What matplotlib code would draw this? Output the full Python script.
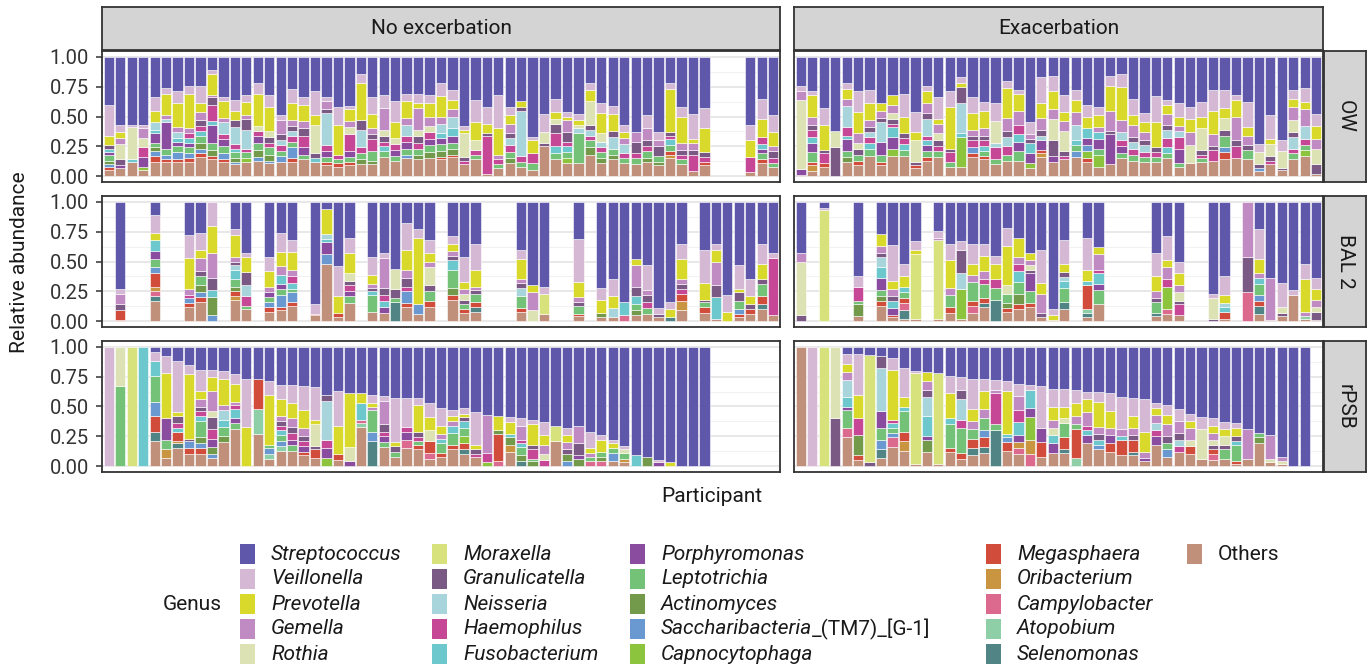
import numpy as np
import matplotlib
matplotlib.use("Agg")
import matplotlib.pyplot as plt
from matplotlib.patches import Rectangle

plt.rcParams['font.family'] = ['Roboto', 'DejaVu Sans']

# genus names in legend order (first one sits on top of each stack)
genera = ["Streptococcus", "Veillonella", "Prevotella", "Gemella", "Rothia",
          "Moraxella", "Granulicatella", "Neisseria", "Haemophilus", "Fusobacterium",
          "Porphyromonas", "Leptotrichia", "Actinomyces", "Saccharibacteria_(TM7)_[G-1]",
          "Capnocytophaga", "Megasphaera", "Oribacterium", "Campylobacter", "Atopobium",
          "Selenomonas", "Others"]
codes = "SVPGRMKNHFYLABCEIQTXO"
genus_colors = ["#5E57AA", "#D5B9D4", "#D9D92B", "#C08BC3", "#DDE2B5",
                "#D7E27C", "#7A5A84", "#A7D5DB", "#C74797", "#6CC8CC",
                "#8A4C9E", "#74C277", "#739A4A", "#6A98D1", "#8CC43D",
                "#D24C3C", "#C99541", "#DC6A8E", "#8ECFA8", "#518585",
                "#C1907A"]

sample_types = ["OW", "BAL 2", "rPSB"]
groups = ["No excerbation", "Exacerbation"]

# each entry = one participant, "code+percent", "" = no sample
ow_no = [
    "S40 V26 P8 K3 F3 Y2 L5 A3 B2 E3 O5", "S57 V6 P5 G5 R13 K5 Y2 O7", "S57 V2 R27 F2 O12",
    "S57 V3 G8 R8 H8 Y8 C3 O5", "S34 V11 P10 N6 F3 Y8 B4 E5 L4 A3 O12",
    "S26 V5 P18 G3 N3 Y22 B4 L5 E2 O12", "S29 V10 P20 G4 N5 F3 Y4 B6 L5 E2 O12",
    "S24 V7 P29 G4 F4 H4 Y4 L5 B4 E3 O12", "S24 V15 P7 G7 K5 F4 H4 L6 A5 B4 E3 O16",
    "S11 V3 P18 G2 K6 H14 F3 Y15 L6 A5 E3 O14", "S34 V3 P14 G4 N10 H4 Y6 L6 B5 E2 O12",
    "S36 V9 P8 K6 N14 F3 H4 L5 A3 B2 O10", "S32 V6 P11 G3 K9 N16 H3 L5 C3 O12",
    "S22 V9 P27 R4 Y6 H4 L6 A6 B3 O13", "S32 V10 P20 R5 K5 H4 L6 A5 B2 O11",
    "S49 V4 G12 N4 K5 H5 B5 L4 O12", "S27 V12 P14 G5 N4 B9 K4 H5 L5 E3 O12",
    "S34 V6 P14 G6 K6 H10 Y6 L4 O14", "S29 V20 P8 R24 K4 F3 O12",
    "S34 V3 G7 K3 N27 H5 Y5 L4 E3 O9", "S42 V15 P25 H4 L3 E3 O8",
    "S41 V3 P10 R6 G5 H14 Y5 L4 E3 O9", "S14 V8 P31 K8 N15 H5 L5 A4 O10",
    "S34 V14 P12 G5 K4 H10 L8 A3 O10", "S32 V11 G18 K5 R5 F4 H4 L5 O16",
    "S37 V18 P13 R5 H5 Y5 L4 O13", "S31 V6 P14 G6 N9 H5 Y6 L5 B3 O15",
    "S31 V8 P4 G18 K6 R5 H5 L5 A4 O14", "S32 V7 P11 G8 R5 H6 Y5 L6 A5 O15",
    "S22 V11 P17 G6 N8 F4 Y5 L6 A5 E2 O14", "S28 V8 P8 G6 N10 F6 Y6 L5 A5 E2 O16",
    "S58 V3 P3 R20 K3 H3 O10", "S36 V19 P15 R8 H4 L4 O14", "S42 V14 P8 K2 H32 O2",
    "S32 V28 P22 H4 G4 L3 O7", "S42 V7 P7 G8 K4 N6 H6 L5 A4 O11",
    "S37 P5 K3 N38 H5 L4 O8", "S67 V3 P11 H8 L6 O5", "S48 V15 R9 K3 O25",
    "S35 V11 P6 R4 H11 F6 K8 L5 O14", "S46 V4 P3 G10 K8 F5 H4 L5 C4 O11",
    "S48 V5 P4 R3 N4 L25 O11", "S22 V6 R20 P9 K4 N5 H4 L6 A6 O18",
    "S39 V8 P17 R7 N5 H4 L5 A4 O11", "S41 V7 P14 K5 N10 L5 A4 O14",
    "S57 V6 P5 G5 N8 H4 L4 O11", "S63 G8 K10 H4 L5 O10", "S49 V11 G10 K5 H4 L6 A3 O12",
    "S63 V7 G5 K8 L5 A3 O9", "S22 V5 P36 K3 F5 H3 L5 I3 E3 O15",
    "S42 V8 P22 G6 K4 H4 L4 O10", "S48 V21 P3 G6 K4 H14 O4", "S43 V17 P20 K4 H4 E3 O9",
    "", "", "",
    "S57 V13 P14 H13 O3", "S35 V17 P15 H6 F4 Y4 L5 E3 O11", "S49 V14 P12 K6 G4 H4 L3 O8",
]

ow_ex = [
    "S24 V5 G7 R58 Y5 O1", "S29 V3 P18 G7 K4 H6 F5 Y8 L8 E3 I5 O4",
    "S43 V14 P21 K3 H8 E3 O8", "S62 R14 K24", "S22 V5 P8 G6 N18 H7 F3 Y10 L5 A4 O12",
    "S29 V17 P18 G8 R5 K5 L5 E4 O9", "S28 V11 P14 G6 K4 N4 F5 H5 L6 O17",
    "S39 P6 G6 K4 N16 Y11 L6 E3 O9", "S32 P8 G7 R5 K4 F8 Y10 C6 H3 O17",
    "S31 V19 P14 K4 F5 H5 L5 O17", "S46 V17 P7 R18 K3 E2 O7",
    "S24 V5 P10 G8 K5 N14 F4 H4 Y5 L5 E3 O13", "S34 V18 P4 G8 R6 K5 L5 H4 O16",
    "S29 V13 P35 K3 H8 L4 O8", "S17 V5 P3 K14 N25 F3 C25 O8",
    "S34 V13 P14 G5 K4 H6 B5 E3 O16", "S38 V7 P15 G6 K4 H5 F4 E3 L4 O14",
    "S39 V15 R18 N4 H10 L4 O10", "S20 V6 P25 G11 K5 N8 H7 L5 O13",
    "S28 V3 P14 G12 H8 F6 Y8 L8 O13", "S55 V10 G4 K3 F9 Y8 C4 O7",
    "S17 V22 P12 G10 N4 K5 Y8 I3 E3 O16", "S16 V13 P15 G8 R18 K13 Y5 O12",
    "S32 V14 P8 G8 R17 K4 H3 O14", "S28 V8 P10 G11 N13 F4 B5 L5 O16",
    "S40 V10 P10 F8 Y6 B5 C6 E3 O12", "S42 V7 P10 G4 F6 Y8 L5 C10 O8",
    "S16 V8 P21 G17 Y25 K3 O10", "S14 V11 P28 G10 N7 H5 Y6 L4 O15",
    "S35 V14 P8 G10 N6 H5 K4 L5 O13", "S47 V8 P8 G7 N6 K4 H4 L4 O12",
    "S33 V22 P21 K4 H4 L4 O12", "S36 V4 P8 G9 K4 H8 N7 F5 L4 O15",
    "S39 V11 P8 G4 Y12 N5 H10 L3 O8", "S42 V10 P11 G11 R15 O11",
    "S38 V12 P10 R18 K4 H3 L3 O12", "S28 V17 P20 G10 H9 K3 O13",
    "S28 V15 P8 R10 K5 B4 L10 E6 O14", "S32 V4 P14 G20 K5 H10 O15",
    "S38 V21 P7 G8 K4 L8 O14", "S73 V7 R10 K3 B3 O4", "S49 V20 P4 R10 K4 H3 O10",
    "S70 V9 R14 K2 O5", "S28 V7 P7 G11 K4 N10 H4 L5 R10 O14",
    "S26 V12 P6 G14 N11 H5 C5 L4 O17", "S48 V10 P11 G8 R13 K8 O2",
]

bal_no = [
    "", "S73 V4 G9 K5 E8 O1", "", "", "S11 V15 P6 F9 Y7 L7 B5 E11 I4 X4 Q4 O17", "", "",
    "S28 V19 P26 G5 B4 E3 H3 O12", "S26 V14 P7 G11 K4 L8 A6 B4 E4 O16",
    "V20 P23 G21 K10 F6 A15 B5", "", "S23 P18 V5 G4 K3 F8 N4 L6 A4 E4 I3 O18",
    "S43 P13 V3 K11 N9 H8 L3 O10", "", "S46 V12 P13 G5 Y4 L4 B4 E4 O8",
    "S26 V16 P12 G7 Y4 F8 B10 L5 E3 O9", "S32 V10 P15 G5 H6 F5 B8 E3 L3 O13", "",
    "S86 V8 E1 O5", "S6 P21 N4 F3 Y10 B8 O48", "S54 V25 P14 E4 O3",
    "S30 V13 P17 R6 K4 H5 Y4 L6 O15", "", "S46 V15 P8 G3 K3 F3 L14 O8",
    "S43 V4 G25 K6 F5 Y5 H5 O7", "S56 R17 K8 L3 X16", "S18 V22 P17 G7 K7 H4 B10 E3 O12",
    "S23 V7 P56 B8 O6", "S32 V11 P7 R15 K5 G5 L8 E5 O12", "",
    "S29 V6 P6 G4 F8 K4 L15 A6 E4 O18", "S46 V21 P6 G4 K4 R5 L4 E3 O7",
    "S35 V22 P14 G3 K3 L7 E4 X4 O8", "", "", "",
    "S40 V8 P17 G3 K4 N7 L10 E3 O8", "S70 P6 G15 R9", "S71 V6 M17 O6", "", "",
    "S31 V36 P13 G4 K3 L7 E2 O4", "", "S72 V10 P11 A4 O3", "S65 V14 P10 N8 O3",
    "S84 F11 Q5", "S48 P5 G18 K8 F7 L5 A4 O5", "S53 V21 G4 K6 H5 L5 O6",
    "S89 V5 K3 O3", "S84 V6 P7 X3", "S35 V13 P17 G4 K4 H4 E6 I8 O9", "",
    "S40 V28 P14 E5 L4 K2 O7", "S35 V5 P10 G20 K10 F18 O2", "S78 V14 P8",
    "S53 V20 P3 K7 L7 B4 E3 O3", "S65 V14 P7 K4 E4 O6",
    "S35 V17 P13 K4 L10 E7 X4 O10", "S43 V4 H48 O5",
]

bal_ex = [
    "S43 G7 R45 K5", "", "S5 V2 M93", "", "", "S62 V9 H12 L3 A10 O4", "",
    "S27 P10 G6 K3 N9 F9 Y10 L5 A4 E4 O13", "S36 V30 P7 G6 F6 Y6 K4 E2 O3",
    "S52 V10 P9 F5 L5 E4 Q6 X7 O2", "S33 V7 P4 M54 O2", "", "S24 V6 G2 M66 O2",
    "S35 V14 P23 G6 L10 E5 O7", "S33 V7 K20 N13 C25 O2", "S35 V17 P9 G6 L16 E4 Q6 O7",
    "S35 V10 P13 G7 H4 L12 E4 X3 O12", "S45 V7 P13 H7 L10 X18",
    "S22 V15 P33 R7 L8 A4 E3 O8", "S30 P16 G6 H6 F9 A9 L10 E4 O10",
    "S43 P6 G4 R4 K3 Y15 L10 E3 O12", "S40 V28 P9 G16 K4 O3", "S90 V5 P4 O1",
    "S32 V20 P7 K4 N3 F6 L12 X6 O10", "", "S30 V27 P9 F4 E20 T3 X4 O3",
    "S38 P6 G13 H3 F9 Y5 L12 O14", "", "", "", "",
    "S43 V19 P13 G6 K3 L9 X3 O4", "S29 V20 P6 G10 H6 C19 Q4 O6",
    "S50 V10 P10 G6 R7 K3 H9 O5", "", "", "S77 V4 R17 K2", "S62 V16 P7 N3 F4 E6 O2", "",
    "G46 K30 Q24", "S23 V25 P12 G4 F5 L9 B5 E4 X7 O6", "S64 G35 O1",
    "S68 V20 R5 K3 O4", "S74 V4 O22", "S52 V13 P27 G4 T2 O2", "S64 V9 P9 G6 R4 K7 O1",
]

psb_no = [
    "V100", "R33 L67", "M100", "F100", "S4 V8 F12 L22 B12 E13 X8 O21",
    "S8 V14 P38 Y18 L8 I7 O7", "S12 V43 P3 K6 H4 F3 E8 X4 I2 O15",
    "S15 V8 P54 B6 K2 E5 O10", "S19 V18 P7 G6 K4 L14 B4 A5 F4 E5 H4 O10",
    "S19 V6 P12 G17 R5 K10 H8 Y7 A6 B3 O7", "S20 V7 P22 N8 F6 G4 L8 A5 O20",
    "S23 V8 P15 G3 F8 Y4 L5 H3 O31", "S27 V40 P33", "S27 E25 T21 O27",
    "S29 V11 P42 B5 T4 L3 O6", "S32 V12 P14 G4 K4 F4 H4 L5 T4 B4 O13",
    "S32 V15 P13 G7 K5 Y4 H6 L5 O13", "S33 V20 P15 G7 K4 Y5 H4 E3 O9",
    "S34 V27 P4 R18 K3 E7 O7", "S40 K5 N33 H7 Y8 C7", "S37 V29 P24 E5 O5",
    "S39 P45 R12 Y4", "S39 P8 F14 T3 Q3 O33", "S40 V7 P3 G3 L18 B8 X21",
    "S41 V4 G20 K6 Y5 H4 L4 O16", "S43 V37 P3 K5 L4 O8", "S43 V24 H4 Y7 Q7 O15",
    "S43 P22 V6 K5 H3 L3 E4 O14", "S47 V12 P11 R9 Q5 E10 O6",
    "S51 V15 P7 G4 F4 L8 E3 O8", "S53 V5 P4 G4 F6 L10 E4 O14",
    "S51 V5 P3 K3 F6 L7 C6 E5 X4 O10", "S55 V27 P4 K4 H2 O8", "S57 G32 H8 C3",
    "S58 P12 A3 E23 Q4", "S59 V4 P10 F3 A6 I6 O12", "S60 V6 G12 F3 L7 H3 X4 A5",
    "S61 V4 P17 K4 H8 L2 A4", "S63 V11 P8 G8 R5 H5", "S66 M13 O21",
    "S68 V6 P6 G6 K4 B4 A6", "S66 G15 K10 Y3 A6", "S71 V14 P4 G3 L4 Q4",
    "S74 V4 P10 L4 A4 Q4", "S78 V3 P4 L4 B7 O4", "S83 V3 R3 L5 I3 O3",
    "S91 F9", "S92 A8", "S95 V2 Y3", "S97 P3", "S100", "S100", "S100",
    "", "", "", "", "", "",
]

psb_ex = [
    "O100", "V100", "M100", "R60 K40", "S6 V8 P7 G7 N14 F8 Y3 L15 Q8 O24",
    "S6 V34 P20 H14 A17 E4 O5", "S7 M90 K3", "S8 K10 N36 Y14 B8 L10 X7 O7",
    "S9 V10 P42 H3 F4 L4 B4 Q8 O16", "S18 V24 P8 F4 L17 E8 I8 O13", "S20 V2 M76 O2",
    "S21 P8 G7 K6 N16 F17 Y3 A10 O12", "S22 M76 O2", "S24 V15 P21 F5 L20 E3 O12",
    "S25 V11 K8 N17 H7 L21 E5 O6", "S27 V25 P10 G7 L8 E8 X6 O9",
    "S27 V10 P15 G8 B6 L10 E8 X5 O11", "S28 V8 H26 L5 G3 X30",
    "S29 V8 P36 B4 F3 E7 O13", "S31 V10 G12 H10 F11 Y6 I5 Q5 O10",
    "S32 V4 F15 Y8 C19 I12 Q10", "S33 V35 Y12 E12 O8", "S35 V15 P11 G7 R6 F7 Y8 O11",
    "S35 V15 P10 R4 L12 E10 X3 O11", "S36 V11 P11 G7 L4 E24 T7",
    "S38 V6 P11 G11 F4 Y7 H4 O19", "S38 V8 P21 G6 K5 F4 B4 O14",
    "S39 V15 P14 G6 Y7 E7 O12", "S42 V27 G6 E13 F3 O9", "S43 V15 P10 G6 K4 E10 X3 O9",
    "S44 V27 P17 G5 Y3 O4", "S47 V4 P6 G7 Y7 N6 H5 O18", "S49 V8 P8 G10 K6 B6 L5 O8",
    "S52 V10 G10 K6 N5 H5 O12", "S56 V6 P6 G10 R5 E7 O10", "S59 V10 R25 O6",
    "S60 V6 P6 G6 R4 K4 Q5 E4 O5", "S63 V6 P6 R7 K4 L8 O6",
    "S64 P7 V4 K4 F3 L14 E2 O2", "S69 G25 O6", "S72 A5 L4 O19", "S74 G20 R3 O3",
    "S92 G4 R2 O2", "S100", "S100", "",
]

panels = {
    ("OW", "No excerbation"): ow_no, ("OW", "Exacerbation"): ow_ex,
    ("BAL 2", "No excerbation"): bal_no, ("BAL 2", "Exacerbation"): bal_ex,
    ("rPSB", "No excerbation"): psb_no, ("rPSB", "Exacerbation"): psb_ex,
}


def parse(bars):
    vals = np.zeros((len(bars), len(genera)))
    for i, s in enumerate(bars):
        for tok in s.split():
            vals[i, codes.index(tok[0])] = float(tok[1:])
        tot = vals[i].sum()
        if tot > 0:
            vals[i] /= tot
    return vals


W, H = 1372, 669
fig = plt.figure(figsize=(W / 100, H / 100), dpi=100)


def px_axes(x0, y0, x1, y1):
    return fig.add_axes([x0 / W, 1 - y1 / H, (x1 - x0) / W, (y1 - y0) / H])


col_px = [(102, 780), (794, 1323)]
row_px = [(51, 182), (196, 327), (341, 472)]
edge = "#333333"
txt = "#1A1A1A"
fs = 15

for r, st in enumerate(sample_types):
    for c, grp in enumerate(groups):
        ax = px_axes(col_px[c][0], row_px[r][0], col_px[c][1], row_px[r][1])
        vals = parse(panels[(st, grp)])
        n = len(vals)
        x = np.arange(1, n + 1)
        bottom = np.zeros(n)
        for g in reversed(range(len(genera))):
            h = vals[:, g]
            m = h > 0
            if m.any():
                ax.bar(x[m], h[m], bottom=bottom[m], width=0.9, color=genus_colors[g],
                       edgecolor="white", linewidth=0.4)
            bottom += h
        ax.set_xlim(0.4, n + 0.6)
        ax.set_ylim(-0.05, 1.05)
        ax.set_xticks([])
        ax.set_yticks([0, 0.25, 0.5, 0.75, 1.0])
        ax.set_yticks([0.125, 0.375, 0.625, 0.875], minor=True)
        ax.yaxis.grid(True, which="major", color="#E2E2E2", linewidth=1.1)
        ax.yaxis.grid(True, which="minor", color="#EFEFEF", linewidth=0.6)
        ax.set_axisbelow(True)
        ax.tick_params(which="minor", length=0)
        for sp in ax.spines.values():
            sp.set_color(edge)
            sp.set_linewidth(1.3)
        if c == 0:
            ax.set_yticklabels(["0.00", "0.25", "0.50", "0.75", "1.00"])
            ax.tick_params(axis="y", which="major", length=4.5, width=1.1, color=edge,
                           labelsize=14.5, labelcolor="#333333", pad=5)
        else:
            ax.tick_params(axis="y", which="major", left=False, labelleft=False)

# facet strips
for c, grp in enumerate(groups):
    sax = px_axes(col_px[c][0], 7, col_px[c][1], 50)
    sax.set_facecolor("#D4D4D4")
    sax.set_xticks([])
    sax.set_yticks([])
    for sp in sax.spines.values():
        sp.set_color(edge)
        sp.set_linewidth(1.3)
    sax.text(0.5, 0.5, grp, ha="center", va="center", fontsize=fs, color=txt,
             transform=sax.transAxes)

for r, st in enumerate(sample_types):
    sax = px_axes(1324, row_px[r][0], 1366, row_px[r][1])
    sax.set_facecolor("#D4D4D4")
    sax.set_xticks([])
    sax.set_yticks([])
    for sp in sax.spines.values():
        sp.set_color(edge)
        sp.set_linewidth(1.3)
    sax.text(0.5, 0.5, st, ha="center", va="center", rotation=-90, fontsize=fs,
             color=txt, transform=sax.transAxes)

fig.text(712 / W, 1 - 497 / H, "Participant", ha="center", va="center", fontsize=fs,
         color=txt)
fig.text(20 / W, 1 - 262 / H, "Relative abundance", ha="center", va="center",
         rotation=90, fontsize=fs, color=txt)

# legend, five rows per column
fig.text(192 / W, 1 - 605 / H, "Genus", ha="center", va="center", fontsize=fs,
         color=txt)
key_x = [240, 432, 630, 986, 1187]
row_y = [554, 579, 604, 629, 654]
renderer = fig.canvas.get_renderer()
for i, (name, col) in enumerate(zip(genera, genus_colors)):
    cx, ry = key_x[i // 5], row_y[i % 5]
    fig.patches.append(Rectangle((cx / W, 1 - (ry + 10) / H), 15 / W, 20 / H,
                                 transform=fig.transFigure, facecolor=col,
                                 edgecolor="none"))
    if name == "Others":
        fig.text((cx + 31) / W, 1 - ry / H, name, ha="left", va="center", fontsize=fs,
                 color=txt)
        continue
    head, sep, tail = name.partition("_")
    t = fig.text((cx + 31) / W, 1 - ry / H, head, ha="left", va="center", fontsize=fs,
                 color=txt, style="italic")
    if sep:
        bb = t.get_window_extent(renderer)
        fig.text(bb.x1 / W, 1 - ry / H, sep + tail, ha="left", va="center",
                 fontsize=fs, color=txt)

fig.savefig("out.png", dpi=100)
